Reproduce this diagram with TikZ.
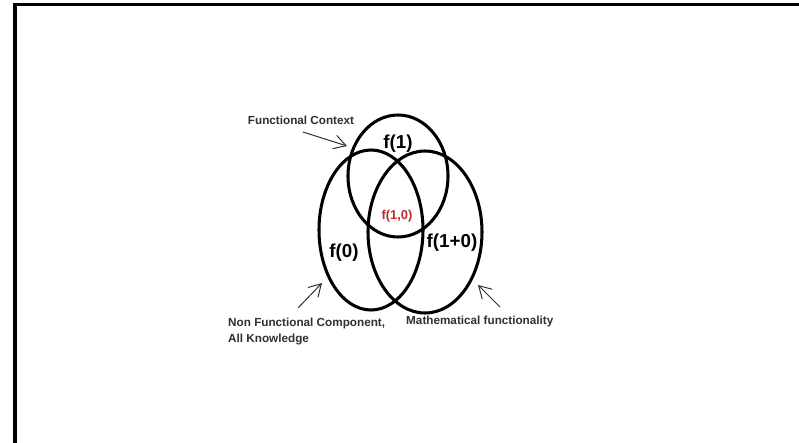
\documentclass[tikz,border=0pt]{standalone}
\usepackage{fontspec}
\setmainfont{Liberation Sans}
\usepackage{xcolor}
\usetikzlibrary{arrows.meta, positioning}
\definecolor{venred}{HTML}{C0282D}
\definecolor{notegray}{HTML}{303030}

\tikzset{
  setline/.style={line width=2.6pt, black},
  setlabel/.style={inner sep=0pt, font=\bfseries\fontsize{16}{18}\selectfont},
  notelabel/.style={inner sep=0pt, text=notegray, font=\bfseries\fontsize{10}{13.6}\selectfont},
  pointer/.style={line width=0.85pt, notegray, -{Straight Barb[length=3.6mm, width=4.2mm]}}
}

\begin{document}
\begin{tikzpicture}[x=0.03cm, y=-0.03cm]

            \useasboundingbox (0,0) rectangle (799,443);

            % frame (top and left edge only)
            \draw[line width=2.6pt] (15,443) -- (15,4.7) -- (799,4.7);

            % the three sets
            \def\xa{398}
            \def\ya{176}
            \def\xb{371}
            \def\yb{230}
            \def\xc{425}
            \def\yc{232}
            \draw[setline] (\xa, \ya) ellipse [x radius=50, y radius=61];
            \draw[setline] (\xb, \yb) ellipse [x radius=52, y radius=80];
            \draw[setline] (\xc, \yc) ellipse [x radius=57, y radius=81];

            \node[setlabel] (fone) at (398,144) {f(1)};
            \node[setlabel] (fzero) at (344,253) {f(0)};
            \node[setlabel] (fsum) at (452,243) {f(1+0)};
            \node[setlabel, text=venred, font=\bfseries\fontsize{11}{13}\selectfont] (fboth) at (397,216) {f(1,0)};

            % notes and their arrows
            \node[notelabel] (context) at (301,120) {Functional Context};
            \node[notelabel, anchor=north west, align=left] (nonfunc) at (228,318) {Non Functional Component,\\All Knowledge};
            \node[notelabel, anchor=west] (maths) at (406,321) {Mathematical functionality};

            \coordinate (ctxtail) at (303,132);
            \coordinate (ctxhead) at (347,146);
            \coordinate (nontail) at (298,308);
            \coordinate (nonhead) at (322,283);
            \coordinate (mathtail) at (500,307);
            \coordinate (mathhead) at (478,285);
            \draw[pointer] (ctxtail) -- (ctxhead);
            \draw[pointer] (nontail) -- (nonhead);
            \draw[pointer] (mathtail) -- (mathhead);

        \end{tikzpicture}
\end{document}
